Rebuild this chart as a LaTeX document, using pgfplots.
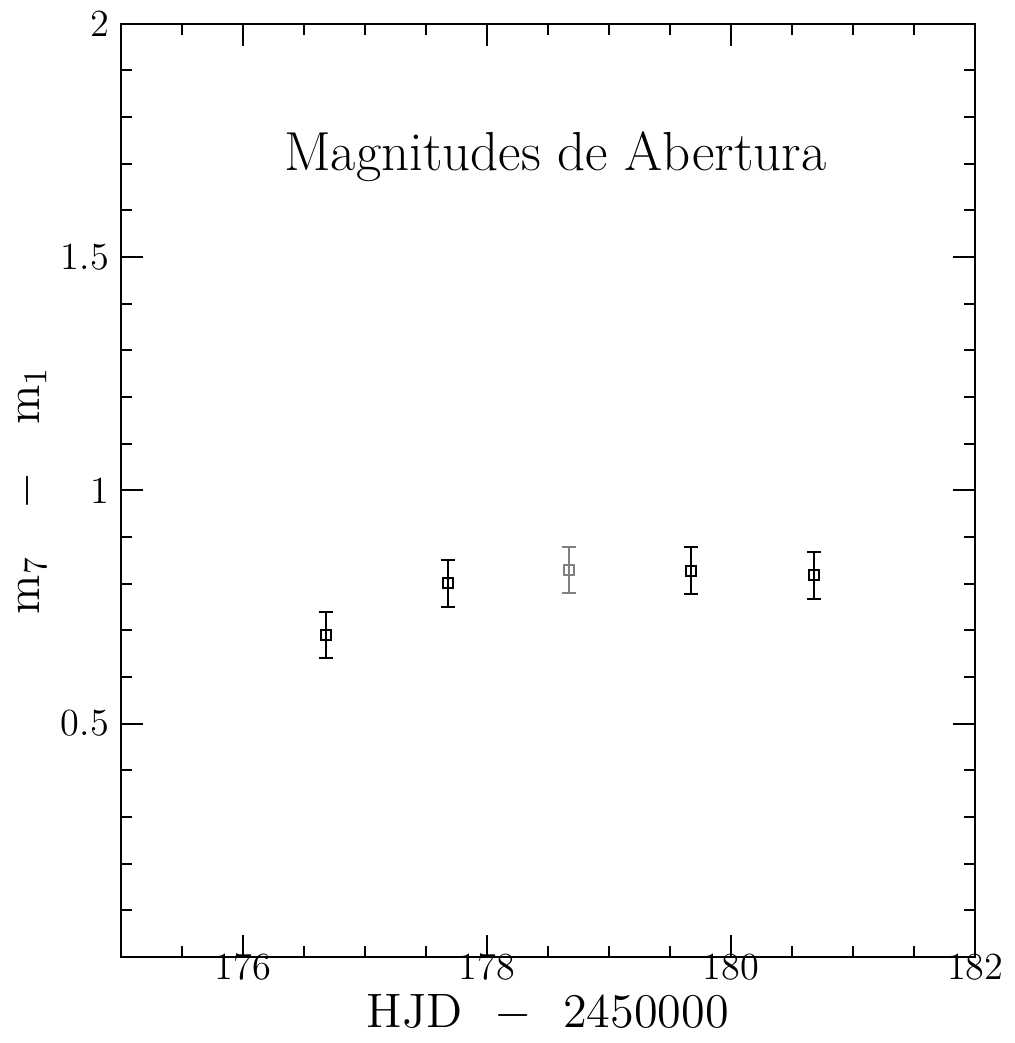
\documentclass[border=0pt]{standalone}
\usepackage{pgfplots}
\pgfplotsset{compat=1.18}

\pgfplotstableread{
x       y      e
176.68  0.690  0.05
177.68  0.801  0.05
179.67  0.828  0.05
180.68  0.818  0.05
}\blackpts
\pgfplotstableread{
x       y      e
178.67  0.829  0.05
}\graypts

\begin{document}
\begin{tikzpicture}
\begin{axis}[
  scale only axis,
  width=256.5pt, height=280pt,
  xmin=175, xmax=182, ymin=0, ymax=2,
  xtick={176,178,180,182},
  minor xtick={175.5,176.5,177,177.5,178.5,179,179.5,180.5,181,181.5},
  ytick={0.5,1,1.5,2},
  minor ytick={0.1,0.2,0.3,0.4,0.6,0.7,0.8,0.9,1.1,1.2,1.3,1.4,1.6,1.7,1.8,1.9},
  xticklabels={176,178,180,182},
  yticklabels={0.5,1,1.5,2},
  tick align=inside,
  major tick length=6.6pt,
  minor tick length=3.3pt,
  every tick/.style={black, line width=0.6pt},
  axis line style={line width=0.6pt},
  ticklabel style={font=\fontsize{11.5}{13}\selectfont},
  xticklabel style={yshift=4.5pt},
  xlabel={HJD \ $-$ \ 2450000},
  ylabel={m$_7$ \ \ $-$ \ \ m$_1$},
  label style={font=\fontsize{14.5}{16}\selectfont},
  xlabel style={yshift=2.5pt},
  ylabel style={yshift=-2.5pt},
]
\addplot[black, line width=0.6pt, only marks, mark=square, mark size=1.5pt,
  mark options={solid, line width=0.6pt},
  error bars/.cd, y dir=both, y explicit,
  error mark options={rotate=90, mark size=2.1pt, line width=0.6pt},
  error bar style={line width=0.6pt}]
  table[x=x, y=y, y error=e] {\blackpts};
\addplot[gray, line width=0.6pt, only marks, mark=square, mark size=1.5pt,
  mark options={solid, line width=0.6pt},
  error bars/.cd, y dir=both, y explicit,
  error mark options={rotate=90, mark size=2.1pt, line width=0.6pt},
  error bar style={line width=0.6pt}]
  table[x=x, y=y, y error=e] {\graypts};
\node[font=\fontsize{16.5}{19}\selectfont] at (axis cs:178.56,1.716) {Magnitudes de Abertura};
\end{axis}
\end{tikzpicture}
\end{document}
